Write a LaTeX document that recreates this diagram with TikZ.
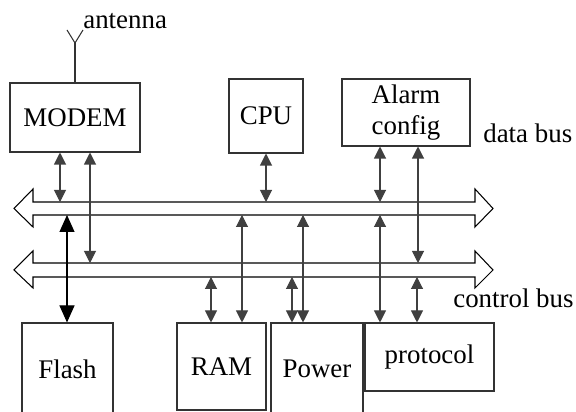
\documentclass[tikz,border=0pt]{standalone}
\usepackage{fontspec}
\setmainfont{Liberation Serif}
\usetikzlibrary{arrows.meta}

\tikzset{
  unit/.style={draw=black!80, line width=0.6pt, inner sep=0pt, align=center,
    font=\fontsize{15.3}{18}\selectfont},
  bus/.style={draw=black, line width=0.6pt},
  link/.style={draw=black!75, line width=0.6pt,
    {Triangle[width=0.24cm,length=0.24cm]}-{Triangle[width=0.24cm,length=0.24cm]}},
  biglink/.style={draw=black, line width=0.6pt,
    {Triangle[width=0.30cm,length=0.34cm]}-{Triangle[width=0.30cm,length=0.34cm]}},
  lbl/.style={inner sep=0pt, anchor=base west, font=\fontsize{15.3}{18}\selectfont}
}

\begin{document}
\begin{tikzpicture}
\useasboundingbox (0,0) rectangle (11.52,8.24);

% units above the buses
\node[unit, minimum width=2.60cm, minimum height=1.38cm] (modem) at (1.50,5.89) {MODEM};
\node[unit, minimum width=1.48cm, minimum height=1.48cm] (cpu) at (5.32,5.92) {CPU};
\node[unit, minimum width=2.56cm, minimum height=1.34cm] (alarm) at (8.12,5.99) {Alarm\\config};

% units below the buses
\node[unit, minimum width=1.82cm, minimum height=1.84cm] (flash) at (1.35,0.86) {Flash};
\node[unit, minimum width=1.78cm, minimum height=1.74cm] (ram) at (4.43,0.91) {RAM};
\node[unit, minimum width=1.84cm, minimum height=1.84cm] (power) at (6.34,0.86) {Power};
\node[unit, minimum width=2.58cm, minimum height=1.36cm] (protocol) at (8.59,1.10) {protocol};

% antenna
\coordinate (ant) at (1.50,7.38);
\draw[black!80, line width=0.6pt] (modem.north) -- (ant);
\draw[black!80, line width=0.6pt] (1.34,7.64) -- (ant) -- (1.66,7.64);
\node[lbl] (antlbl) at (1.66,7.66) {antenna};

% data bus
\draw[bus] (0.28,4.07) -- (0.66,4.46) -- (0.66,4.20) -- (9.50,4.20) -- (9.50,4.46)
  -- (9.86,4.07) -- (9.50,3.70) -- (9.50,3.94) -- (0.66,3.94) -- (0.66,3.70) -- cycle;
\coordinate (dtop) at (0,4.20);
\coordinate (dbot) at (0,3.94);
\node[lbl] (dlbl) at (9.66,5.38) {data bus};

% control bus
\draw[bus] (0.28,2.84) -- (0.66,3.22) -- (0.66,2.98) -- (9.50,2.98) -- (9.50,3.22)
  -- (9.86,2.84) -- (9.50,2.48) -- (9.50,2.70) -- (0.66,2.70) -- (0.66,2.48) -- cycle;
\coordinate (ctop) at (0,2.98);
\coordinate (cbot) at (0,2.70);
\node[lbl] (clbl) at (9.06,2.08) {control bus};

% links to the buses
\draw[link] (1.20,0 |- modem.south) -- (1.20,0 |- dtop);
\draw[link] (1.80,0 |- modem.south) -- (1.80,0 |- ctop);
\draw[link] (cpu.south) -- (cpu.south |- dtop);
\draw[link] (7.60,0 |- alarm.south) -- (7.60,0 |- dtop);
\draw[link] (8.36,0 |- alarm.south) -- (8.36,0 |- ctop);

\draw[biglink] (1.34,0 |- dbot) -- (1.34,0 |- flash.north);
\draw[link] (4.22,0 |- cbot) -- (4.22,0 |- ram.north);
\draw[link] (4.84,0 |- dbot) -- (4.84,0 |- ram.north);
\draw[link] (5.84,0 |- cbot) -- (5.84,0 |- power.north);
\draw[link] (6.06,0 |- dbot) -- (6.06,0 |- power.north);
\draw[link] (7.60,0 |- dbot) -- (7.60,0 |- protocol.north);
\draw[link] (8.34,0 |- cbot) -- (8.34,0 |- protocol.north);
\end{tikzpicture}
\end{document}
